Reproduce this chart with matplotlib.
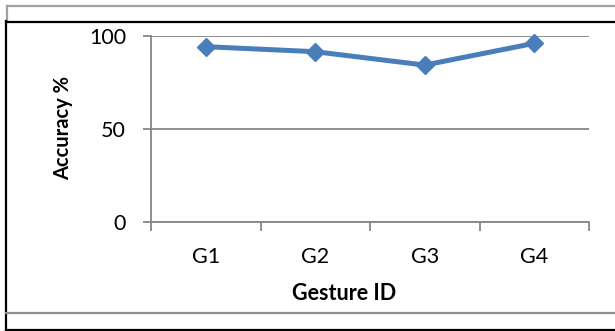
import matplotlib
matplotlib.use("Agg")
import matplotlib.pyplot as plt
from matplotlib.lines import Line2D
from matplotlib.ticker import FixedLocator

categories = ["G1", "G2", "G3", "G4"]
accuracy = [94.1, 91.4, 84.2, 95.9]
y_ticks = [0, 50, 100]

plt.rcParams['font.family'] = ['Lato', 'DejaVu Sans']

W, H = 615, 331
fig = plt.figure(figsize=(W / 100, H / 100), dpi=100)
fig.patch.set_facecolor('white')

def fx(px):
    return px / W

def fy(py):
    return 1 - py / H

left, right, top, bottom = 151, 589, 35.7, 221.7
ax = fig.add_axes([fx(left), fy(bottom), fx(right) - fx(left), fy(top) - fy(bottom)])

x = list(range(1, len(categories) + 1))
blue = '#4A7EBB'
ax.plot(x, accuracy, color=blue, lw=3.6, marker='D', ms=9, mfc=blue, mec=blue, mew=1, zorder=5, clip_on=False)

ax.set_xlim(0.5, len(categories) + 0.5)
ax.set_ylim(0, 100)
grid_c = '#868686'
ax.set_yticks(y_ticks)
ax.set_yticklabels([str(v) for v in y_ticks], fontsize=15.5)
ax.yaxis.grid(True, color=grid_c, lw=1.3)
ax.set_axisbelow(True)
ax.set_xticks(x)
ax.set_xticklabels(categories, fontsize=15.5)
ax.xaxis.set_minor_locator(FixedLocator([i + 0.5 for i in range(0, len(categories) + 1)]))
ax.tick_params(axis='x', which='major', length=0, pad=18.5)
ax.tick_params(axis='x', which='minor', length=6.5, width=1.3, color=grid_c)
ax.tick_params(axis='y', length=6, width=1.3, color=grid_c, pad=12)

for s in ['top', 'right']:
    ax.spines[s].set_visible(False)
for s in ['left', 'bottom']:
    ax.spines[s].set_color(grid_c)
    ax.spines[s].set_linewidth(1.3)

fig.text(fx(63), fy(128), 'Accuracy %', rotation=90, ha='center', va='center', fontsize=14.5, fontweight='bold')
fig.text(fx(344), fy(293), 'Gesture ID', ha='center', va='center', fontsize=15.5, fontweight='bold')

def hline(y, x0, x1, c, lw=1.6):
    fig.add_artist(Line2D([fx(x0), fx(x1)], [fy(y), fy(y)], color=c, lw=lw, transform=fig.transFigure))

def vline(xp, y0, y1, c, lw=1.6):
    fig.add_artist(Line2D([fx(xp), fx(xp)], [fy(y0), fy(y1)], color=c, lw=lw, transform=fig.transFigure))

hline(5.5, 7, 615, '#A0A0A0')
vline(7, 5.5, 21, '#A0A0A0')
hline(21.5, 6, 615, '#000000')
vline(6, 21, 331, '#000000')
hline(313, 6, 615, '#909090')
hline(330, 6, 615, '#000000')

fig.savefig('out.png', dpi=100, facecolor='white')
